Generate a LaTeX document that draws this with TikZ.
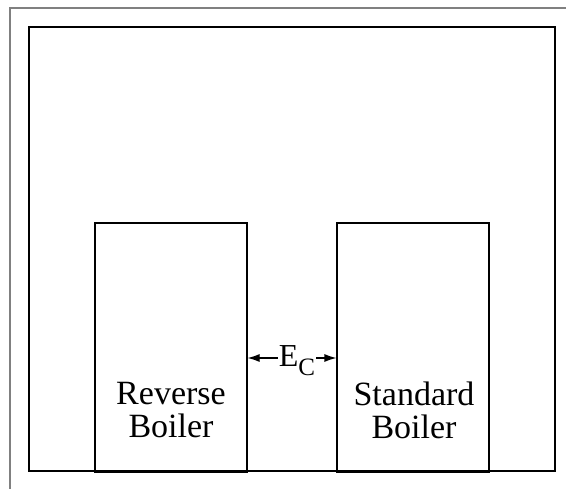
\documentclass[tikz,border=0pt]{standalone}
\usepackage{fontspec}
\setmainfont{Liberation Serif}
\usetikzlibrary{arrows.meta}

\tikzset{
  boiler/.style={draw, line width=1.1pt, minimum width=152pt, minimum height=249pt, inner sep=0pt},
  boilertext/.style={align=center, font=\fontsize{34}{33}\selectfont}
}

\begin{document}
\begin{tikzpicture}[x=1pt, y=-1pt]
        \useasboundingbox (0,0) rectangle (566,489);
        \draw[gray, line width=1.3pt] (566,8) -- (10,8) -- (10,489);
        \node[draw, line width=1.1pt, minimum width=526pt, minimum height=444pt, inner sep=0pt] (room) at (292,249) {};
        \node [boiler] (rev) at (171,347.5) {};
        \node [boiler] (std) at (413,347.5) {};
        \node [boilertext] (revtext) at (171,410) {Reverse\\Boiler};
        \node [boilertext] (stdtext) at (414,410) {Standard\\Boiler};
        \draw[{Latex[length=12pt,width=8pt]}-{Latex[length=12pt,width=8pt]}, line width=1.1pt] (rev.east |- 0,358) -- node[fill=white, inner sep=1pt, font=\fontsize{32}{32}\selectfont, yshift=-3pt, xshift=5pt] (ec) {E\raisebox{-0.28em}{\fontsize{25}{25}\selectfont C}} (std.west |- 0,358);
    \end{tikzpicture}
\end{document}
